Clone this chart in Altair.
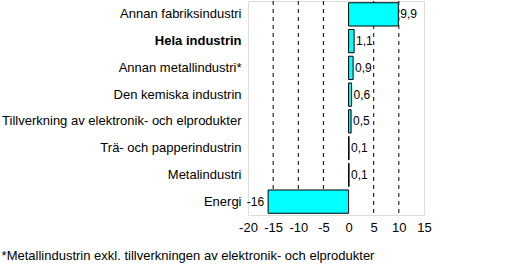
import altair as alt
import pandas as pd

categories = ["Annan fabriksindustri", "Hela industrin", "Annan metallindustri*",
              "Den kemiska industrin", "Tillverkning av elektronik- och elprodukter",
              "Trä- och papperindustrin", "Metalindustri", "Energi"]
values = [9.9, 1.1, 0.9, 0.6, 0.5, 0.1, 0.1, -16]
labels = ["9,9", "1,1", "0,9", "0,6", "0,5", "0,1", "0,1", "-16"]
x_ticks = [-20, -15, -10, -5, 0, 5, 10, 15]
grid_values = [-15, -10, -5, 5, 10]
footnote = "*Metallindustrin exkl. tillverkningen av elektronik- och elprodukter"

df = pd.DataFrame({"cat": categories, "val": values, "lab": labels})
grid_df = pd.DataFrame({"g": grid_values})

FONT = "Liberation Sans"

xscale = alt.Scale(domain=[-20, 15], nice=False, zero=False)
yscale = alt.Scale(paddingInner=0.13, paddingOuter=0.065)

xaxis = alt.Axis(values=x_ticks, ticks=False, domain=False, grid=False,
                 labelPadding=6, labelFontSize=13, labelColor="black",
                 labelFont=FONT, labelFlush=False, labelOverlap=False,
                 labelExpr="toString(datum.value)", title=None)
yaxis = alt.Axis(ticks=False, domain=False, labelPadding=7, grid=False,
                 labelFontSize=13, labelColor="black", labelFont=FONT,
                 labelLimit=300, title=None,
                 labelFontWeight=alt.ExprRef(expr="datum.value == 'Hela industrin' ? 'bold' : 'normal'"))


def X(field):
    return alt.X(field, scale=xscale, axis=xaxis, title=None)


def Y():
    return alt.Y("cat:N", sort=categories, scale=yscale, axis=yaxis, title=None)


grid = alt.Chart(grid_df).mark_rule(color="black", strokeDash=[4, 4], strokeWidth=1).encode(
    x=X("g:Q")
)

bars = alt.Chart(df).mark_bar(color="#00FFFF", stroke="black", strokeWidth=1).encode(
    x=X("val:Q"),
    x2=alt.datum(0),
    y=Y(),
)

text_pos = alt.Chart(df).transform_filter("datum.val >= 0").mark_text(
    align="left", baseline="middle", dx=2, fontSize=12, font=FONT, color="black"
).encode(
    x=X("val:Q"),
    y=Y(),
    text="lab:N",
)

text_neg = alt.Chart(df).transform_filter("datum.val < 0").mark_text(
    align="right", baseline="middle", dx=-4, fontSize=12, font=FONT, color="black"
).encode(
    x=X("val:Q"),
    y=Y(),
    text="lab:N",
)

chart = alt.layer(grid, bars, text_pos, text_neg).properties(
    width=176, height=214,
    autosize="none",
    padding={"left": 248, "top": 1, "right": 106, "bottom": 49},
    title=alt.TitleParams(footnote, orient="bottom", anchor="start", frame="bounds",
                          fontSize=13, font=FONT, fontWeight="normal", color="black",
                          offset=16),
).configure_view(stroke="black", strokeWidth=1).configure(background="white")

chart.save("out.html", embed_options={"renderer": "svg", "actions": False})
